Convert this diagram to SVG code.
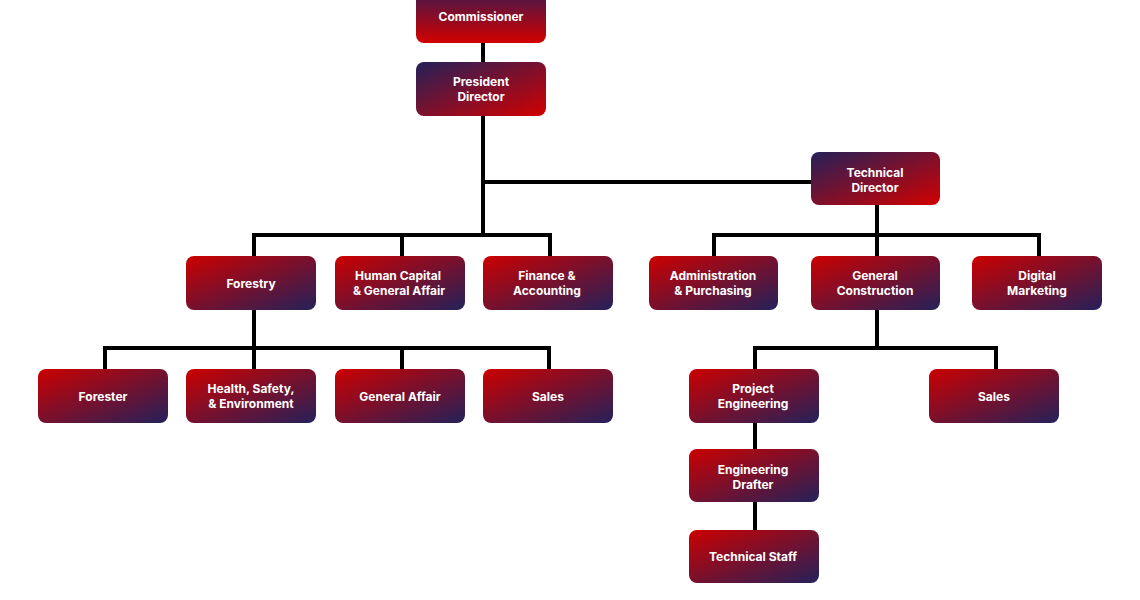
<svg xmlns="http://www.w3.org/2000/svg" width="1140" height="600" viewBox="0 0 1140 600">
<defs>
<linearGradient id="gA" x1="0" y1="0" x2="1" y2="1"><stop offset="0" stop-color="#cc0000"/><stop offset="1" stop-color="#24215a"/></linearGradient>
<linearGradient id="gB" x1="0" y1="0" x2="1" y2="1"><stop offset="0" stop-color="#24215a"/><stop offset="1" stop-color="#d20000"/></linearGradient>
<linearGradient id="gC" x1="0" y1="0" x2="0" y2="1"><stop offset="0" stop-color="#3a1a50"/><stop offset="1" stop-color="#d20000"/></linearGradient>
</defs>
<style>
rect{fill:url(#gA)}
text{font-family:Inter,"Liberation Sans",sans-serif;font-weight:700;font-size:12px;fill:#fff;text-anchor:middle}
#connectors path{stroke:#000;stroke-width:4;fill:none}
</style>
<rect width="1140" height="600" style="fill:#fff"/>
<g id="connectors">
<path d="M483 40V62M483 116V235M483 182H811M254 235H550M254 233V256M402 235V256M550 233V256"/>
<path d="M877 205V256M714 235H1039M714 233V256M1039 233V256"/>
<path d="M254 310V369M105 348H549M105 346V369M402 348V369M549 346V369"/>
<path d="M877 310V348M755 348H996M755 346V369M996 346V369M755 423V449M755 502V530"/>
</g>
<g id="commissioner"><rect x="416" y="-12" width="130" height="55" rx="8" style="fill:url(#gC)"/><text x="481" y="21">Commissioner</text></g>
<g id="president"><rect x="416" y="62" width="130" height="54" rx="8" style="fill:url(#gB)"/><text x="481" y="86">President</text><text x="481" y="101">Director</text></g>
<g id="technical"><rect x="811" y="152" width="129" height="53" rx="8" style="fill:url(#gB)"/><text x="875" y="177">Technical</text><text x="875" y="192">Director</text></g>
<g id="forestry"><rect x="186" y="256" width="130" height="54" rx="8"/><text x="251" y="288">Forestry</text></g>
<g id="hc"><rect x="335" y="256" width="130" height="54" rx="8"/><text x="398" y="280">Human Capital</text><text x="399" y="295">&amp; General Affair</text></g>
<g id="finance"><rect x="483" y="256" width="130" height="54" rx="8"/><text x="547" y="280">Finance &amp;</text><text x="547" y="295">Accounting</text></g>
<g id="admin"><rect x="649" y="256" width="129" height="54" rx="8"/><text x="713" y="280">Administration</text><text x="713" y="295">&amp; Purchasing</text></g>
<g id="genconst"><rect x="811" y="256" width="129" height="54" rx="8"/><text x="875" y="280">General</text><text x="875" y="295">Construction</text></g>
<g id="digital"><rect x="972" y="256" width="130" height="54" rx="8"/><text x="1037" y="280">Digital</text><text x="1037" y="295">Marketing</text></g>
<g id="forester"><rect x="38" y="369" width="130" height="54" rx="8"/><text x="103" y="401">Forester</text></g>
<g id="hse"><rect x="186" y="369" width="130" height="54" rx="8"/><text x="251" y="393">Health, Safety,</text><text x="251" y="408">&amp; Environment</text></g>
<g id="ga"><rect x="335" y="369" width="130" height="54" rx="8"/><text x="400" y="401">General Affair</text></g>
<g id="sales1"><rect x="483" y="369" width="130" height="54" rx="8"/><text x="548" y="401">Sales</text></g>
<g id="pe"><rect x="689" y="369" width="130" height="54" rx="8"/><text x="753" y="393">Project</text><text x="753" y="408">Engineering</text></g>
<g id="sales2"><rect x="929" y="369" width="130" height="54" rx="8"/><text x="994" y="401">Sales</text></g>
<g id="ed"><rect x="689" y="449" width="130" height="53" rx="8"/><text x="753" y="474">Engineering</text><text x="753" y="489">Drafter</text></g>
<g id="ts"><rect x="689" y="530" width="130" height="53" rx="8"/><text x="753" y="561">Technical Staff</text></g>
</svg>
